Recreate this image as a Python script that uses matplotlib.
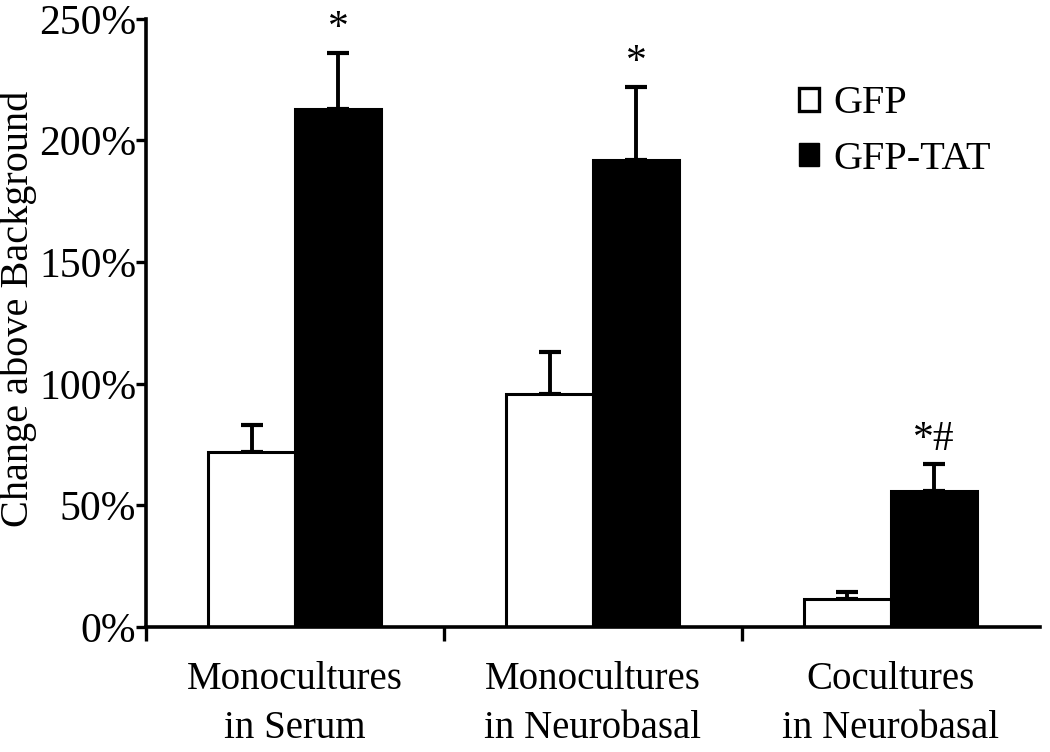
import numpy as np
import matplotlib.pyplot as plt
from matplotlib.patches import Patch

plt.rcParams['font.family'] = ['Liberation Serif', 'DejaVu Serif']

# data
groups = ['Monocultures\nin Serum', 'Monocultures\nin Neurobasal', 'Cocultures\nin Neurobasal']
gfp = [72, 96, 11.5]
gfp_err = [11, 17, 3]
gfp_tat = [213, 192, 56]
gfp_tat_err = [23, 30, 11]
marks = ['*', '*', '*#']

fig = plt.figure(figsize=(10.5, 7.52), dpi=100)
ax = fig.add_axes([0.139, 0.166, 0.851, 0.809])

x = np.arange(len(groups)) + 0.5
w = 0.29
ax.bar(x - w / 2, gfp, w, color='white', edgecolor='black', linewidth=2.2, zorder=2)
ax.bar(x + w / 2, gfp_tat, w, color='black', edgecolor='black', linewidth=2.2, zorder=2)
ax.errorbar(x - w / 2, gfp, yerr=[np.zeros(3), gfp_err], fmt='none', ecolor='black',
            elinewidth=2.8, capsize=8, capthick=3, zorder=1)
ax.errorbar(x + w / 2, gfp_tat, yerr=[np.zeros(3), gfp_tat_err], fmt='none', ecolor='black',
            elinewidth=2.8, capsize=8, capthick=3, zorder=1)

for xi, v, e, m in zip(x + w / 2, gfp_tat, gfp_tat_err, marks):
    ax.text(xi, v + e + 2, m, ha='center', va='bottom', fontsize=30)

ax.set_xlim(0, 3)
ax.set_ylim(0, 250)
ax.set_yticks([0, 50, 100, 150, 200, 250])
ax.set_yticklabels(['0%', '50%', '100%', '150%', '200%', '250%'], fontsize=30)
ax.set_xticks(x)
ax.set_xticklabels(groups, fontsize=28, linespacing=1.45)
ax.set_xticks([0, 1, 2], minor=True)
ax.tick_params(axis='x', which='major', length=0, pad=24)
ax.tick_params(axis='x', which='minor', length=10, width=2.4, direction='out')
ax.tick_params(axis='y', length=7, width=2.4, direction='out', pad=0)
ax.set_ylabel('Change above Background', fontsize=29)
ax.yaxis.set_label_coords(-0.122, 0.523)

for s in ['top', 'right']:
    ax.spines[s].set_visible(False)
for s in ['left', 'bottom']:
    ax.spines[s].set_linewidth(2.6)

handles = [Patch(facecolor='white', edgecolor='black', linewidth=2.4),
           Patch(facecolor='black', edgecolor='black')]
ax.legend(handles, ['GFP', 'GFP-TAT'], loc='upper left', bbox_to_anchor=(0.69, 0.95),
          frameon=False, fontsize=29, handlelength=0.5, handleheight=0.5,
          handletextpad=0.35, labelspacing=0.45)

fig.savefig('out.png', dpi=100)
